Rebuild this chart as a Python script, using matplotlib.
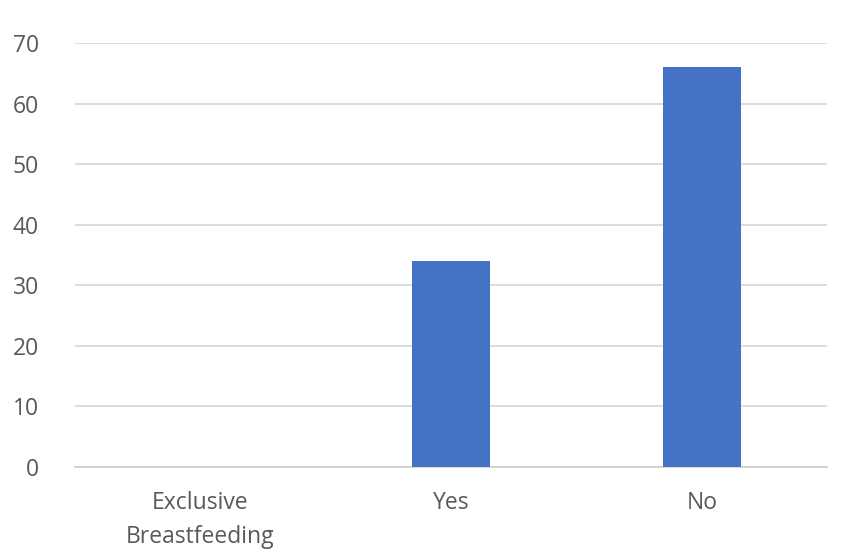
import matplotlib.pyplot as plt

categories = ['Exclusive\nBreastfeeding', 'Yes', 'No']
values = [0, 34, 66]

plt.rcParams['font.family'] = ['Open Sans', 'DejaVu Sans']

fig = plt.figure(figsize=(8.52, 5.53), dpi=100)
ax = fig.add_axes([0.088, 0.1555, 0.883, 0.7665])

x = list(range(len(categories)))
ax.bar(x, values, width=0.31, color='#4472C4', zorder=3)

ax.set_ylim(0, 70)
ax.set_xlim(-0.5, 2.5)
ax.set_yticks(range(0, 71, 10))
ax.set_xticks(x)
ax.set_xticklabels(categories, fontsize=16.5, color='#595959', linespacing=1.55)
ax.tick_params(axis='y', labelsize=16.5, labelcolor='#595959', length=0, pad=26)
ax.tick_params(axis='x', length=0, pad=17)

ax.grid(axis='y', color='#d9d9d9', linewidth=1.3, zorder=0)
for s in ['top', 'right', 'left']:
    ax.spines[s].set_visible(False)
ax.spines['bottom'].set_color('#d0d0d0')
ax.spines['bottom'].set_linewidth(1.3)

fig.savefig('out.png', dpi=100)
